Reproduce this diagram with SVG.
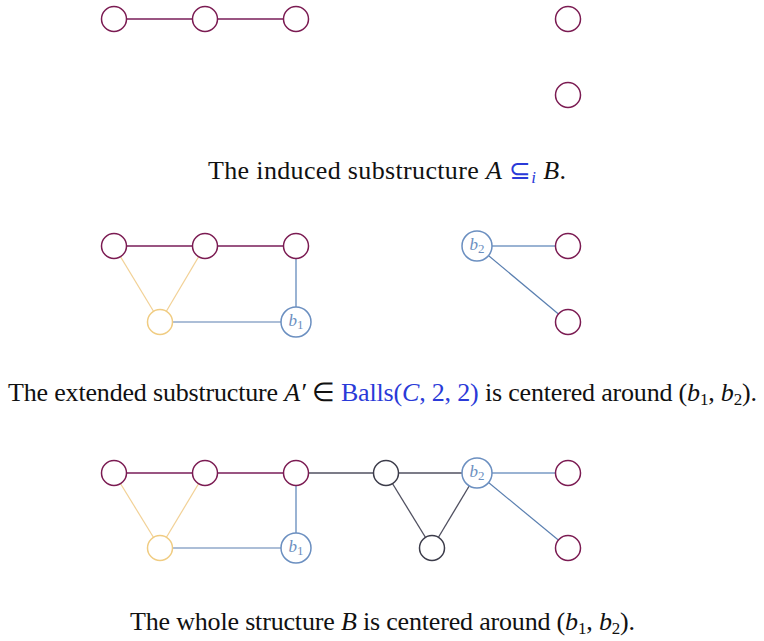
<svg xmlns="http://www.w3.org/2000/svg" width="764" height="641" viewBox="0 0 764 641">
<style>
.p{fill:#fff;stroke:#7b1b52;stroke-width:1.5}
.y{fill:#fff;stroke:#f0cc82;stroke-width:1.5}
.b{fill:#fff;stroke:#6b8fc0;stroke-width:1.5}
.k{fill:#fff;stroke:#3c3c4a;stroke-width:1.5}
.ep{stroke:#9a5582;stroke-width:2}
.ey{stroke:#f2d196;stroke-width:1.2}
.eb{stroke:#9ab3d3;stroke-width:2}
.ebd{stroke:#5a7fb0;stroke-width:1.2}
.ek{stroke:#505060;stroke-width:1.3}
.cap{font-family:"Liberation Serif",serif;font-size:26px;fill:#111}
.m{font-style:italic}
.bl{fill:#2a3ad8}
.lab{font-family:"Liberation Serif",serif;font-style:italic;font-size:17px;fill:#6b8fc0}
.sub{font-style:normal;font-size:13px}
</style>
<g id="connectors">
<line class="ep" x1="114" y1="19" x2="296" y2="19"/>
<line class="ep" x1="114" y1="246" x2="296" y2="246"/>
<line class="ey" x1="114" y1="246" x2="160" y2="322"/>
<line class="ey" x1="205" y1="246" x2="160" y2="322"/>
<line class="eb" x1="296" y1="246" x2="296" y2="322"/>
<line class="ebd" x1="160" y1="322" x2="296" y2="322"/>
<line class="eb" x1="477" y1="246" x2="568" y2="246"/>
<line class="ebd" x1="477" y1="246" x2="568" y2="322"/>
<line class="ep" x1="114" y1="473" x2="296" y2="473"/>
<line class="ey" x1="114" y1="473" x2="160" y2="548"/>
<line class="ey" x1="205" y1="473" x2="160" y2="548"/>
<line class="eb" x1="296" y1="473" x2="296" y2="548"/>
<line class="ebd" x1="160" y1="548" x2="296" y2="548"/>
<line class="ek" x1="296" y1="473" x2="477" y2="473"/>
<line class="ek" x1="386" y1="473" x2="432" y2="548"/>
<line class="ek" x1="477" y1="473" x2="432" y2="548"/>
<line class="eb" x1="477" y1="473" x2="568" y2="473"/>
<line class="ebd" x1="477" y1="473" x2="568" y2="548"/>
</g>
<g id="n1a"><circle class="p" cx="114" cy="19" r="12.5"/></g>
<g id="n1b"><circle class="p" cx="205" cy="19" r="12.5"/></g>
<g id="n1c"><circle class="p" cx="296" cy="19" r="12.5"/></g>
<g id="n1d"><circle class="p" cx="568" cy="19" r="12.5"/></g>
<g id="n1e"><circle class="p" cx="568" cy="95" r="12.5"/></g>
<g id="n2a"><circle class="p" cx="114" cy="246" r="12.5"/></g>
<g id="n2b"><circle class="p" cx="205" cy="246" r="12.5"/></g>
<g id="n2c"><circle class="p" cx="296" cy="246" r="12.5"/></g>
<g id="n2y"><circle class="y" cx="160" cy="322" r="12.5"/></g>
<g id="n2b1"><circle class="b" cx="296" cy="322" r="15"/><text class="lab" x="296" y="326" text-anchor="middle">b<tspan class="sub" dy="3">1</tspan></text></g>
<g id="n2b2"><circle class="b" cx="477" cy="246" r="15"/><text class="lab" x="477" y="250" text-anchor="middle">b<tspan class="sub" dy="3">2</tspan></text></g>
<g id="n2d"><circle class="p" cx="568" cy="246" r="12.5"/></g>
<g id="n2e"><circle class="p" cx="568" cy="322" r="12.5"/></g>
<g id="n3a"><circle class="p" cx="114" cy="473" r="12.5"/></g>
<g id="n3b"><circle class="p" cx="205" cy="473" r="12.5"/></g>
<g id="n3c"><circle class="p" cx="296" cy="473" r="12.5"/></g>
<g id="n3y"><circle class="y" cx="160" cy="548" r="12.5"/></g>
<g id="n3b1"><circle class="b" cx="296" cy="548" r="15"/><text class="lab" x="296" y="552" text-anchor="middle">b<tspan class="sub" dy="3">1</tspan></text></g>
<g id="n3k1"><circle class="k" cx="386" cy="473" r="12.5"/></g>
<g id="n3k2"><circle class="k" cx="432" cy="548" r="12.5"/></g>
<g id="n3b2"><circle class="b" cx="477" cy="473" r="15"/><text class="lab" x="477" y="477" text-anchor="middle">b<tspan class="sub" dy="3">2</tspan></text></g>
<g id="n3d"><circle class="p" cx="568" cy="473" r="12.5"/></g>
<g id="n3e"><circle class="p" cx="568" cy="548" r="12.5"/></g>
<g id="captions">
<text class="cap" x="208" y="179" textLength="358" lengthAdjust="spacing">The induced substructure <tspan class="m">A</tspan> <tspan class="bl">⊆</tspan><tspan class="bl m" font-size="17" dy="4">i</tspan> <tspan class="m" dy="-4">B</tspan>.</text>
<text class="cap" x="8" y="401" textLength="749" lengthAdjust="spacing">The extended substructure <tspan class="m">A′</tspan> ∈ <tspan class="bl">Balls(<tspan class="m">C</tspan>, 2, 2)</tspan> is centered around (<tspan class="m">b</tspan><tspan font-size="17" dy="4">1</tspan><tspan dy="-4">, </tspan><tspan class="m">b</tspan><tspan font-size="17" dy="4">2</tspan><tspan dy="-4">).</tspan></text>
<text class="cap" x="130" y="630" textLength="505" lengthAdjust="spacing">The whole structure <tspan class="m">B</tspan> is centered around (<tspan class="m">b</tspan><tspan font-size="17" dy="4">1</tspan><tspan dy="-4">, </tspan><tspan class="m">b</tspan><tspan font-size="17" dy="4">2</tspan><tspan dy="-4">).</tspan></text>
</g>
</svg>
